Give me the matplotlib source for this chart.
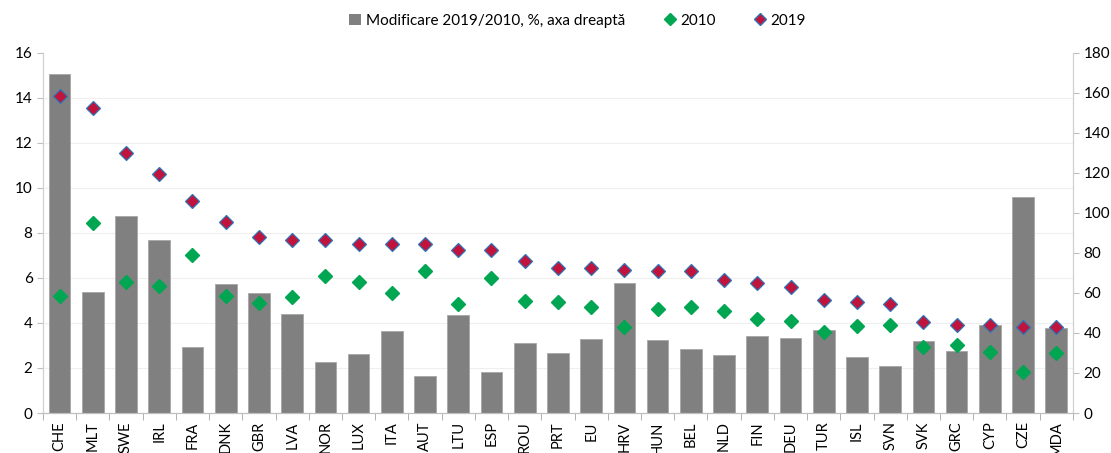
import matplotlib
matplotlib.use('Agg')
import matplotlib.pyplot as plt
from matplotlib.ticker import MultipleLocator
from matplotlib.lines import Line2D
from matplotlib.patches import Patch

plt.rcParams['font.family'] = ['Lato', 'DejaVu Sans']

tari = ['CHE', 'MLT', 'SWE', 'IRL', 'FRA', 'DNK', 'GBR', 'LVA', 'NOR', 'LUX',
        'ITA', 'AUT', 'LTU', 'ESP', 'ROU', 'PRT', 'EU', 'HRV', 'HUN', 'BEL',
        'NLD', 'FIN', 'DEU', 'TUR', 'ISL', 'SVN', 'SVK', 'GRC', 'CYP', 'CZE', 'MDA']

v2019 = [14.1, 13.55, 11.55, 10.6, 9.4, 8.5, 7.8, 7.7, 7.7, 7.52,
         7.52, 7.5, 7.26, 7.26, 6.76, 6.45, 6.42, 6.36, 6.33, 6.3,
         5.91, 5.79, 5.6, 5.04, 4.93, 4.85, 4.04, 3.93, 3.93, 3.84, 3.84]
v2010 = [5.22, 8.44, 5.8, 5.65, 7.0, 5.2, 4.87, 5.15, 6.09, 5.84,
         5.32, 6.33, 4.85, 6.0, 4.98, 4.94, 4.69, 3.84, 4.61, 4.72,
         4.54, 4.17, 4.07, 3.59, 3.85, 3.93, 2.94, 3.03, 2.71, 1.83, 2.68]
modificare = [169.3, 60.4, 98.6, 86.6, 33.2, 64.5, 60.0, 49.7, 25.3, 29.4,
              41.2, 18.6, 48.9, 20.3, 35.1, 29.8, 37.1, 65.2, 36.6, 32.1,
              29.1, 38.6, 37.4, 41.4, 27.8, 23.6, 36.1, 30.8, 44.1, 108.0, 42.6]

n = len(tari)
x = list(range(n))

fig = plt.figure(figsize=(11.11, 4.53), dpi=100)
ax = fig.add_axes([0.0387, 0.0883, 0.927, 0.795])
ax2 = ax.twinx()

# bare pe axa dreapta
ax2.bar(x, modificare, width=0.65, color='#808080', edgecolor='#a6a6a6', linewidth=0.6, zorder=2)
ax2.set_ylim(0, 180)
ax2.yaxis.set_major_locator(MultipleLocator(20))
ax2.yaxis.set_minor_locator(MultipleLocator(22.5))
ax2.tick_params(axis='y', which='minor', length=0)
ax2.grid(which='minor', axis='y', color='#efefef', linewidth=0.8, zorder=0)
ax2.set_axisbelow(True)

# puncte pe axa stanga
ax.set_zorder(ax2.get_zorder() + 1)
ax.patch.set_visible(False)
ax.plot(x, v2010, linestyle='none', marker='D', markersize=7, color='#00a651',
        markeredgecolor='#00a651', zorder=3)
ax.plot(x, v2019, linestyle='none', marker='D', markersize=7, color='#c0143c',
        markeredgecolor='#2e75b6', markeredgewidth=0.9, zorder=4)
ax.set_ylim(0, 16)
ax.yaxis.set_major_locator(MultipleLocator(2))
ax.set_xlim(-0.5, n - 0.5)

ax.set_xticks(x)
ax.set_xticklabels(tari, rotation=90, fontsize=10.5)
ax.set_xticks([i + 0.5 for i in range(-1, n)], minor=True)
ax.tick_params(axis='x', which='major', length=0, pad=6)
ax.tick_params(axis='x', which='minor', length=5, color='#a6a6a6', direction='out')
ax2.set_xticks([i + 0.5 for i in range(-1, n)], minor=True)
ax2.grid(which='minor', axis='x', color='#efefef', linewidth=0.8)

ax.tick_params(axis='y', labelsize=11, length=4, color='#bfbfbf')
ax2.tick_params(axis='y', which='major', labelsize=11, length=4, color='#bfbfbf')

for a in (ax, ax2):
    a.spines['top'].set_visible(False)
    a.spines['left'].set_color('#d0d0d0')
    a.spines['right'].set_color('#d0d0d0')
    a.spines['bottom'].set_color('#bfbfbf')

handles = [Patch(facecolor='#808080', edgecolor='none'),
           Line2D([], [], linestyle='none', marker='D', markersize=6, color='#00a651'),
           Line2D([], [], linestyle='none', marker='D', markersize=6, color='#c0143c',
                  markeredgecolor='#2e75b6')]
labels = ['Modificare 2019/2010, %, axa dreaptă', '2010', '2019']
fig.legend(handles, labels, loc='upper center', bbox_to_anchor=(0.52, 1.0), ncol=3,
           frameon=False, fontsize=11, handlelength=0.8, handletextpad=0.3,
           columnspacing=2.5)

fig.savefig('out.png', dpi=100)
